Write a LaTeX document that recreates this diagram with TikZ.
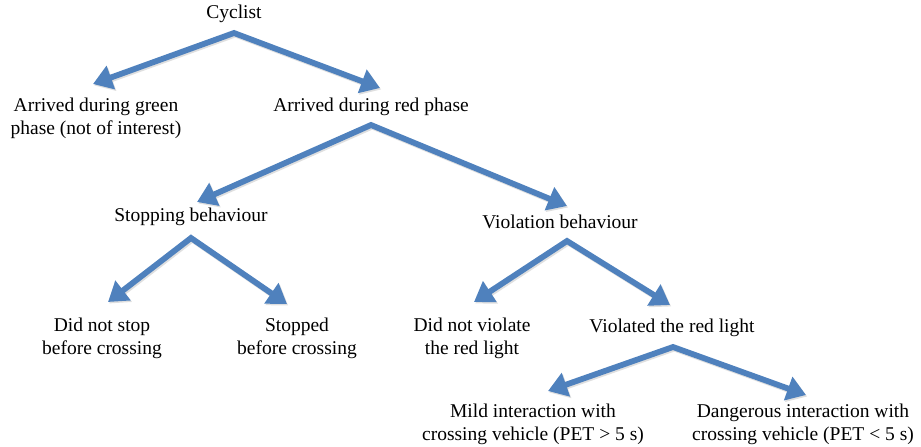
\documentclass[tikz,border=0pt]{standalone}
\usepackage{fontspec}
\setmainfont{Liberation Serif}
\usetikzlibrary{arrows.meta}
\definecolor{arrblue}{HTML}{4F81BD}
\tikzset{
  lbl/.style={align=center, inner sep=0pt, font=\fontsize{19.5}{23}\selectfont},
  branch/.style={draw=arrblue, line width=5.8pt, line join=miter, line cap=butt,
    {Triangle[length=19pt,width=24pt]}-{Triangle[length=19pt,width=24pt]}},
  shadowbr/.style={draw=black!25, opacity=0.5, line width=5.8pt, line join=miter,
    {Triangle[length=19pt,width=24pt]}-{Triangle[length=19pt,width=24pt]}, transform canvas={shift={(1.2pt,-1.5pt)}}}
}
\begin{document}
\begin{tikzpicture}[x=1pt,y=-1pt]
\useasboundingbox (0,0) rectangle (921,447);
% nodes
\node[lbl] (cyc) at (234,14) {Cyclist};
\node[lbl] (green) at (96,118) {Arrived during green\\phase (not of interest)};
\node[lbl] (red) at (371,107) {Arrived during red phase};
\node[lbl] (stop) at (191,217) {Stopping behaviour};
\node[lbl] (viol) at (560,222) {Violation behaviour};
\node[lbl] (nostop) at (102,338) {Did not stop\\before crossing};
\node[lbl] (stopped) at (297,338) {Stopped\\before crossing};
\node[lbl] (noviol) at (472,338) {Did not violate\\the red light};
\node[lbl] (violated) at (672,328) {Violated the red light};
\node[lbl] (mild) at (533,424) {Mild interaction with\\crossing vehicle (PET > 5 s)};
\node[lbl] (dang) at (803,424) {Dangerous interaction with\\crossing vehicle (PET < 5 s)};
% apex and tip coordinates
\coordinate (cyc-a) at (234,33);
\coordinate (green-t) at (93,84);
\coordinate (red-t) at (380,88);
\coordinate (red-a) at (371,125);
\coordinate (stop-t) at (197,202);
\coordinate (viol-t) at (567,206);
\coordinate (stop-a) at (191,238);
\coordinate (nostop-t) at (108,302);
\coordinate (stopped-t) at (287,304);
\coordinate (viol-a) at (567,241);
\coordinate (noviol-t) at (474,302);
\coordinate (violated-t) at (670,305);
\coordinate (violated-a) at (673,347);
\coordinate (mild-t) at (548,391);
\coordinate (dang-t) at (806,395);
% shadows
\foreach \l/\a/\r in {green-t/cyc-a/red-t, stop-t/red-a/viol-t, nostop-t/stop-a/stopped-t, noviol-t/viol-a/violated-t, mild-t/violated-a/dang-t}
  \draw[shadowbr] (\l) -- (\a) -- (\r);
% branches
\draw[branch] (green-t) -- (cyc-a) -- (red-t);
\draw[branch] (stop-t) -- (red-a) -- (viol-t);
\draw[branch] (nostop-t) -- (stop-a) -- (stopped-t);
\draw[branch] (noviol-t) -- (viol-a) -- (violated-t);
\draw[branch] (mild-t) -- (violated-a) -- (dang-t);
\end{tikzpicture}
\end{document}
